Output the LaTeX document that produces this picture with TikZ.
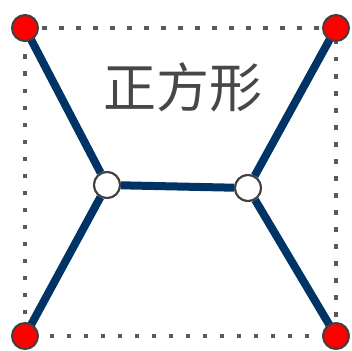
\documentclass[tikz,border=0pt]{standalone}
\usepackage{fontspec}
\newfontfamily\cjk{Noto Sans CJK SC}
\definecolor{edgeblue}{HTML}{003366}
\definecolor{txtgray}{HTML}{474747}
\definecolor{dotgray}{HTML}{5A5A5A}
\begin{document}
\begin{tikzpicture}[x=1pt,y=-1pt,
  corner/.style={circle,fill=red,draw=black!75,line width=2pt,minimum size=26pt,inner sep=0pt},
  junction/.style={circle,fill=white,draw=black!75,line width=2pt,minimum size=26pt,inner sep=0pt},
  edge/.style={draw=edgeblue,line width=8pt},
  frame/.style={draw=dotgray,line width=4.5pt,dash pattern=on 4.5pt off 12.5pt}]
\useasboundingbox (0,0) rectangle (352,350);
\coordinate (tl) at (25,28);
\coordinate (tr) at (336,28);
\coordinate (bl) at (25,336);
\coordinate (br) at (336,336);
\draw[frame] (tl) -- (tr) -- (br) -- (bl) -- cycle;
\node[junction] (a) at (107,185) {};
\node[junction] (b) at (248,188) {};
\draw[edge] (tl) -- (a);
\draw[edge] (bl) -- (a);
\draw[edge] (tr) -- (b);
\draw[edge] (br) -- (b);
\draw[edge] (a) -- (b);
\node[junction] at (107,185) {};
\node[junction] at (248,188) {};
\node[corner] (ctl) at (tl) {};
\node[corner] (ctr) at (tr) {};
\node[corner] (cbl) at (bl) {};
\node[corner] (cbr) at (br) {};
\node[text=txtgray,font=\cjk\fontsize{53}{53}\selectfont,inner sep=0pt] (t) at (183,87) {正方形};
\end{tikzpicture}
\end{document}
